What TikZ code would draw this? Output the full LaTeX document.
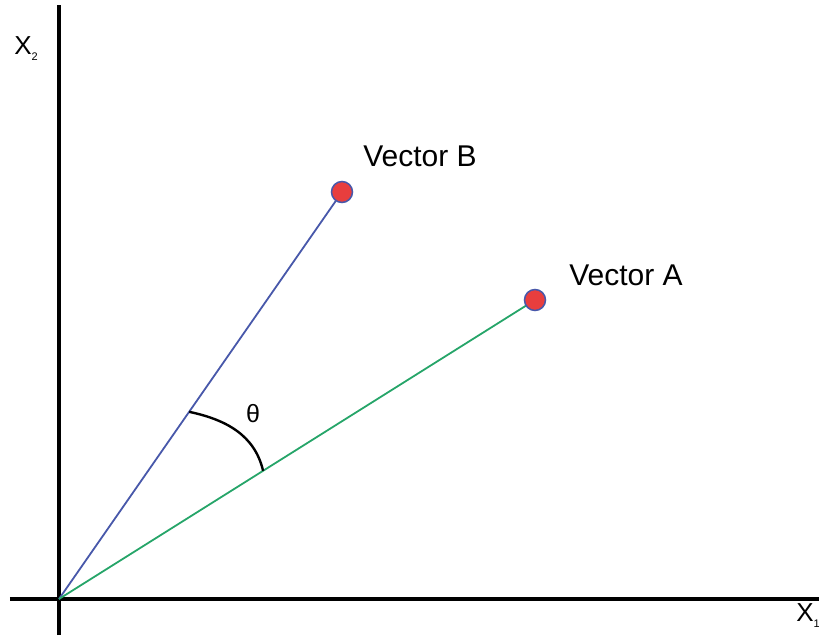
\documentclass[tikz,border=0pt]{standalone}
\usepackage{fontspec}
\setmainfont{Liberation Sans}
\usepackage{xcolor}
\usetikzlibrary{calc}

\definecolor{vecblue}{RGB}{72,88,170}
\definecolor{vecgreen}{RGB}{38,165,105}
\definecolor{dotred}{RGB}{232,62,62}

\begin{document}
\begin{tikzpicture}[
    x=1pt, y=1pt,
    axis/.style={line width=3.2pt, black},
    vecline/.style={line width=1.8pt},
    tip/.style={circle, fill=dotred, draw=vecblue, line width=1.5pt, minimum size=21pt, inner sep=0pt},
    label/.style={font=\fontsize{30}{32}\selectfont, text=black},
    axlabel/.style={font=\fontsize{26}{28}\selectfont, text=black}
  ]
  \useasboundingbox (-59,-36) rectangle (760,599);

  % Axes
  \coordinate (O) at (0,0);
  \coordinate (ytop) at (0,594);
  \coordinate (ybot) at (0,-36);
  \coordinate (xleft) at (-49,0);
  \coordinate (xright) at (760,0);
  \draw[axis] (ybot) -- (ytop);
  \draw[axis] (xleft) -- (xright);
  \node[axlabel] (x2) at (-33,550) {X\raisebox{-6pt}{\fontsize{11}{12}\selectfont 2}};
  \node[axlabel] (x1) at (749,-17) {X\raisebox{-6pt}{\fontsize{11}{12}\selectfont 1}};

  % Vectors
  \draw[vecline, vecblue] (O) -- (283,407) node[tip] (B) {};
  \draw[vecline, vecgreen] (O) -- (476,299) node[tip] (A) {};
  \node[label] (labB) at (361,443) {Vector B};
  \node[label] (labA) at (567,324) {Vector A};

  % Angle
  \coordinate (arcB) at ($(O)!228pt!(B)$);
  \coordinate (arcA) at ($(O)!241pt!(A)$);
  \draw[line width=2.4pt] (arcB) to[out=-12, in=103] (arcA);
  \node[label, font=\fontsize{25}{27}\selectfont] (theta) at (194,185) {θ};
\end{tikzpicture}
\end{document}
